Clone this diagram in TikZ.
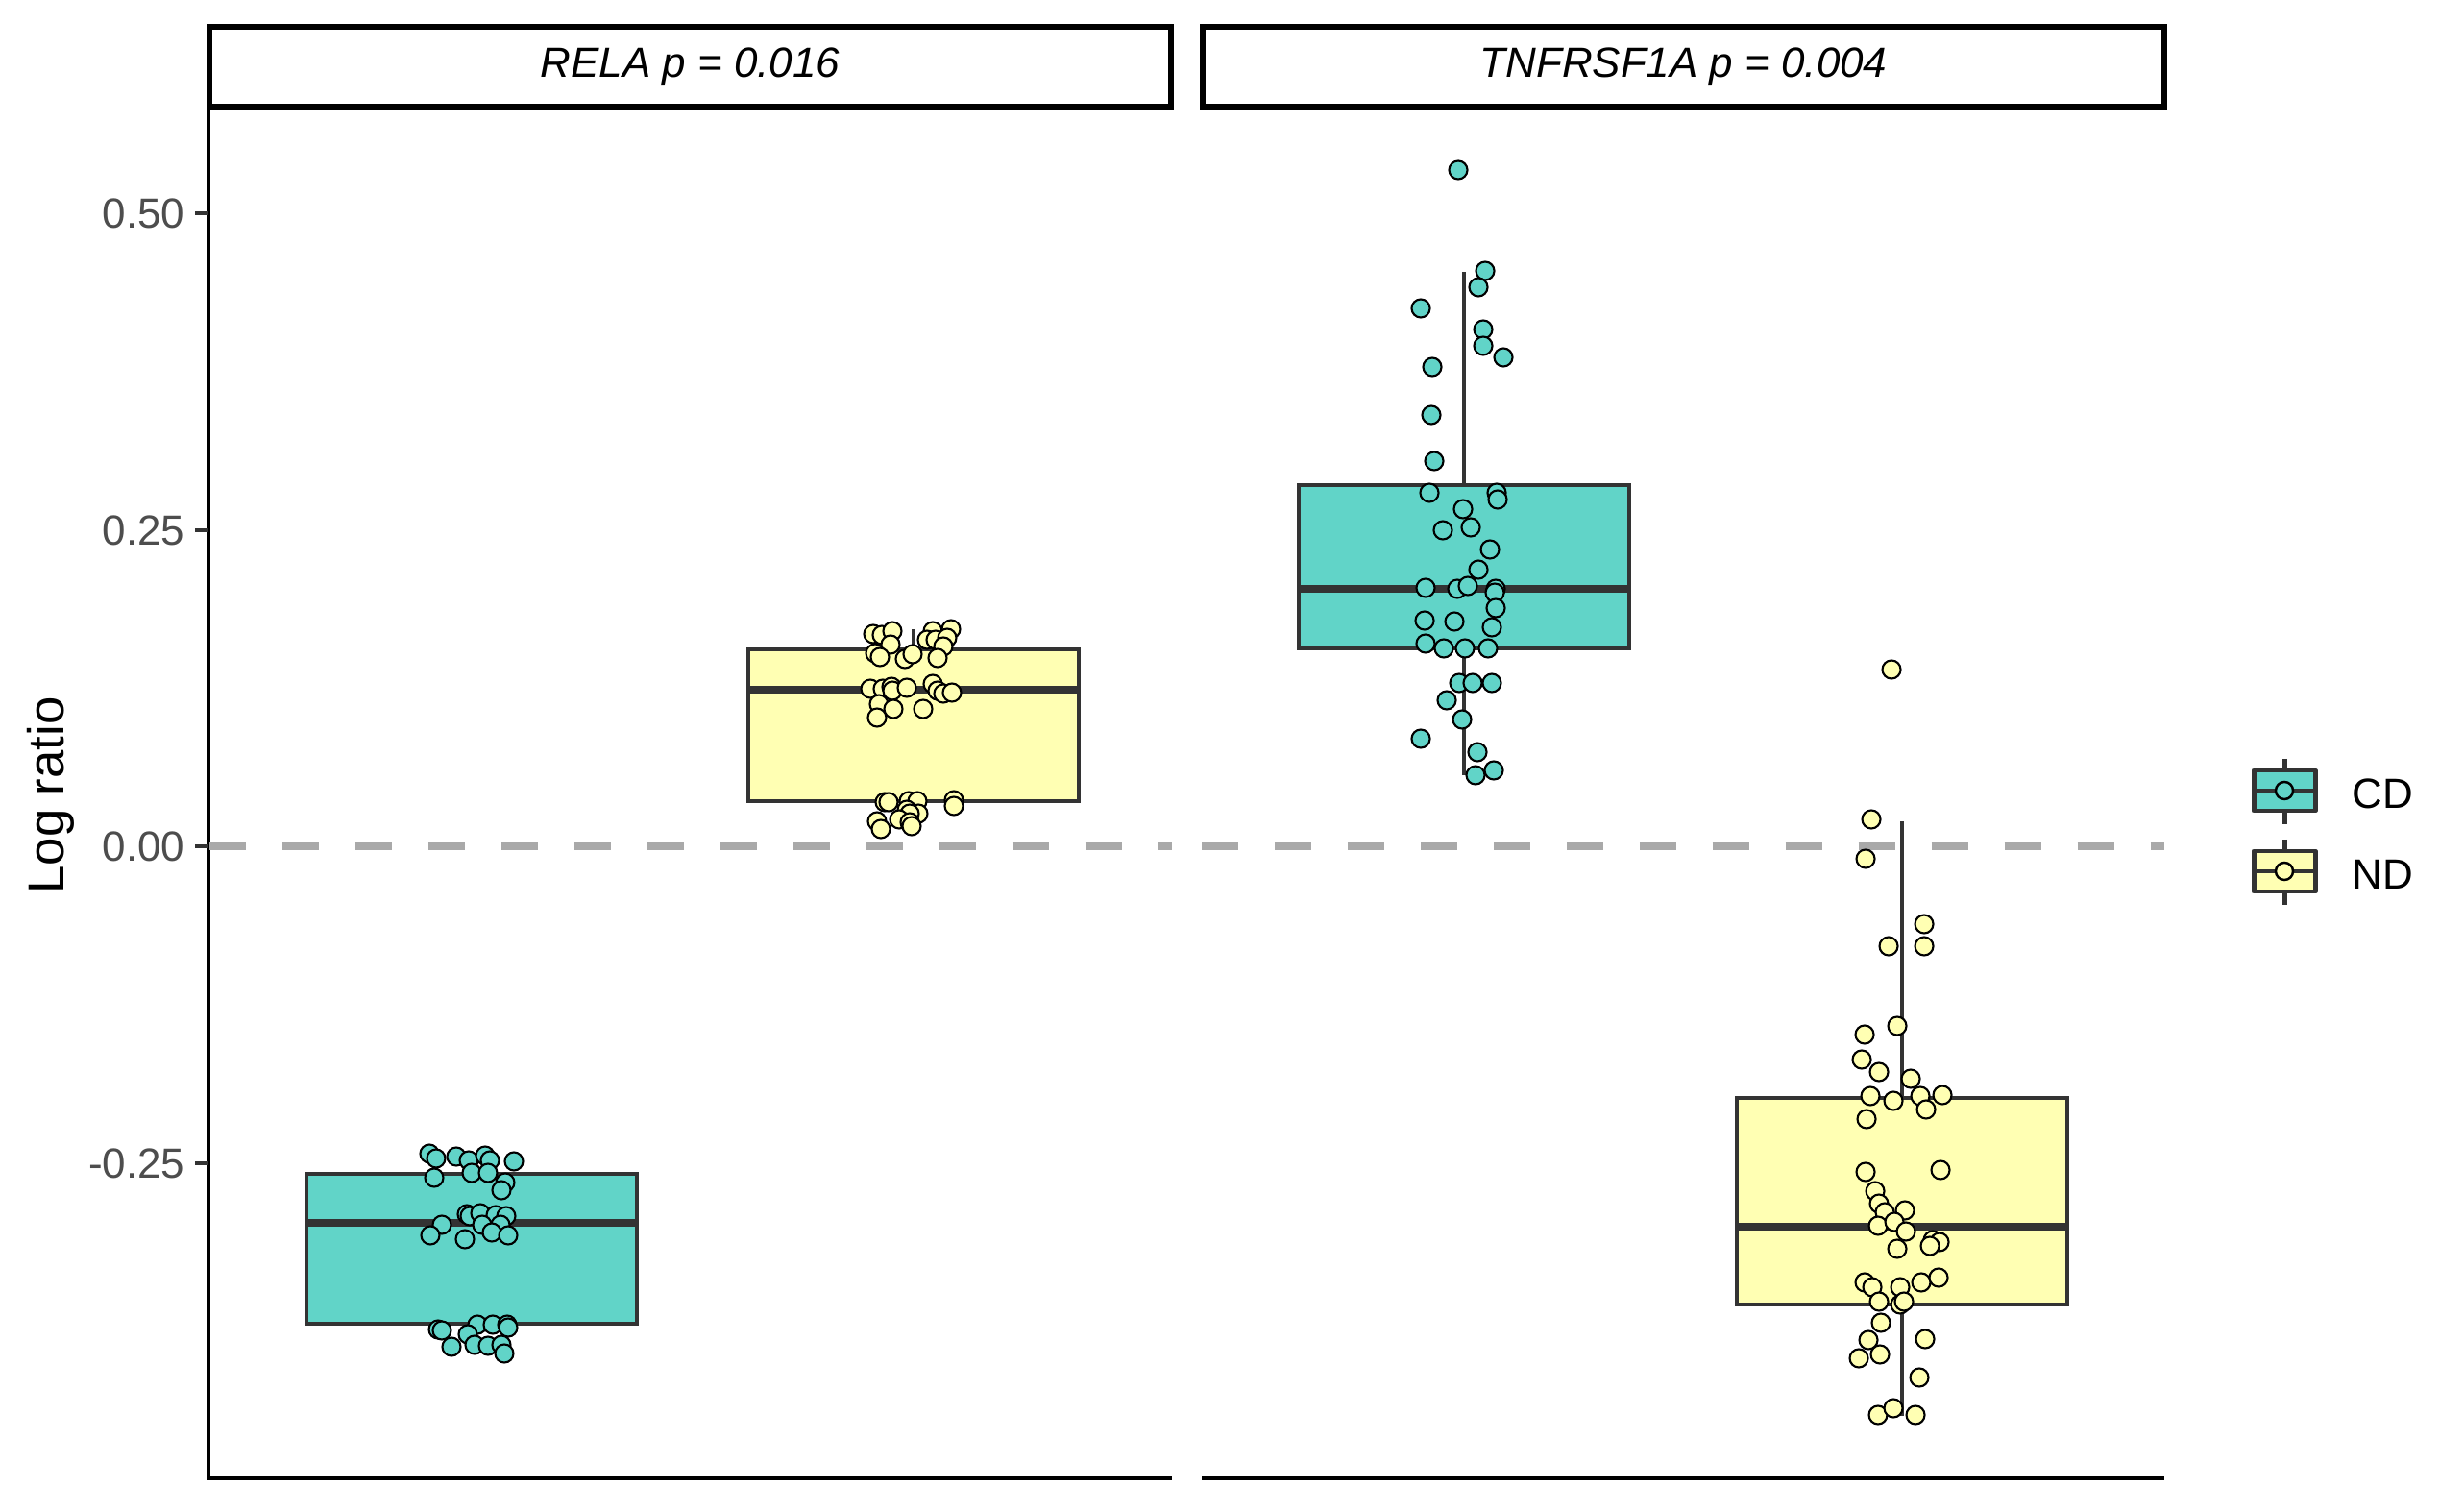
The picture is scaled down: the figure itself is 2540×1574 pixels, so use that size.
\documentclass[tikz,border=0pt]{standalone}
\usepackage{fontspec}
\setmainfont{Liberation Sans}
\definecolor{cdcol}{HTML}{61D4C8}
\definecolor{ndcol}{HTML}{FFFFB3}
\definecolor{boxline}{HTML}{333333}
\definecolor{ticklab}{HTML}{4D4D4D}
\definecolor{zerocol}{HTML}{A9A9A9}
\tikzset{
	boxbody/.style={draw=boxline, line width=1.2pt},
	medline/.style={draw=boxline, line width=2.4pt},
	whisk/.style={draw=boxline, line width=1.1pt},
	cdpoint/.style={draw=black, fill=cdcol, line width=0.6pt},
	ndpoint/.style={draw=black, fill=ndcol, line width=0.6pt},
	striplab/.style={font=\fontsize{12.5}{15}\selectfont\itshape},
	ticklabel/.style={font=\fontsize{12.5}{15}\selectfont, text=ticklab, inner sep=0pt},
	keylabel/.style={font=\fontsize{12.5}{15}\selectfont, anchor=west, inner sep=0pt}
}
\begin{document}
\begin{tikzpicture}[x=0.01cm, y=-0.01cm]
	\useasboundingbox (0,0) rectangle (2540,1574);
	
	%Streifen ueber den Feldern
	\draw[line width=1.8pt] (218,28) rectangle (1219,111) node[midway, striplab](stripRela){RELA p = 0.016};
	\draw[line width=1.8pt] (1252,28) rectangle (2253,111) node[midway, striplab](stripTnf){TNFRSF1A p = 0.004};
	
	%Achsen
	\draw[line width=1.3pt] (217,111) -- (217,1539) -- (1220,1539);
	\draw[line width=1.3pt] (1251,1539) -- (2253,1539);
	\foreach \val/\py [count=\i] in {0.50/222, 0.25/552, 0.00/881, -0.25/1211}{
		\draw[boxline, line width=1.2pt] (203,\py) -- (217,\py);
		\node[ticklabel, anchor=east](tick\i) at (193,\py) {\val};
	}
	\node[rotate=90, font=\fontsize{15}{18}\selectfont](ylab) at (53,828) {Log ratio};
	
	%Nulllinie
	\begin{scope}[zerocol, line width=2.5pt, dash pattern=on 10.8pt off 10.8pt]
	\draw (218,881) -- (1220,881);
	\draw (1251,881) -- (2253,881);
	\end{scope}
	
	%Boxen: Mitte/oben/unten/Median/Whisker oben/Whisker unten
	\foreach \cx/\top/\bot/\med/\wt/\wb/\col in {
		491/1222/1378/1273/1201/1409/cdcol,
		951/676/834/718/655/863/ndcol,
		1524/505/675/613/283/807/cdcol,
		1980/1143/1358/1277/855/1474/ndcol}{
		\draw[whisk] (\cx,\top) -- (\cx,\wt);
		\draw[whisk] (\cx,\bot) -- (\cx,\wb);
		\draw[boxbody, fill=\col] (\cx-172,\top) rectangle (\cx+172,\bot);
		\draw[medline] (\cx-172,\med) -- (\cx+172,\med);
	}
	
	%Punkte RELA
	\foreach \x/\y in {447/1201, 454/1206, 475/1204, 488/1208, 505/1203, 510/1208, 535/1209, 452/1226, 491/1221, 508/1221, 526/1231, 522/1239, 486/1264, 489/1266, 500/1263, 516/1265, 527/1266, 502/1275, 521/1275, 460/1275, 448/1286, 484/1290, 512/1283, 529/1286, 456/1384, 460/1385, 497/1379, 513/1379, 528/1379, 529/1382, 487/1389, 470/1402, 494/1400, 508/1401, 522/1400, 525/1409}
		\draw[cdpoint] (\x,\y) circle[radius=0.95mm];
	\foreach \x/\y in {909/660, 918/661, 929/657, 927/671, 911/680, 916/684, 942/686, 950/681, 971/657, 990/655, 965/666, 974/666, 986/664, 982/673, 976/685, 906/717, 919/717, 928/715, 929/719, 944/716, 971/712, 976/719, 982/722, 991/721, 915/733, 930/738, 913/747, 961/738, 921/835, 925/835, 946/834, 955/834, 993/833, 993/839, 944/843, 956/847, 947/847, 936/853, 947/856, 949/860, 913/855, 917/863}
		\draw[ndpoint] (\x,\y) circle[radius=0.95mm];
	
	%Punkte TNFRSF1A
	\foreach \x/\y in {1518/177, 1546/282, 1539/299, 1479/321, 1544/343, 1544/360, 1565/372, 1491/382, 1490/432, 1493/480, 1488/513, 1558/513, 1559/520, 1523/530, 1502/552, 1531/549, 1551/572, 1539/593, 1484/612, 1517/613, 1528/610, 1557/613, 1556/617, 1557/633, 1483/646, 1514/647, 1553/653, 1484/670, 1503/675, 1525/675, 1549/675, 1519/711, 1533/711, 1553/711, 1506/729, 1522/749, 1479/769, 1538/783, 1555/802, 1536/807}
		\draw[cdpoint] (\x,\y) circle[radius=0.95mm];
	\foreach \x/\y in {1969/697, 1948/853, 1942/894, 2003/962, 1966/985, 2003/985, 1975/1068, 1941/1077, 1938/1103, 1956/1116, 1989/1123, 1947/1141, 1971/1146, 1999/1141, 2022/1140, 2005/1155, 1943/1165, 1942/1220, 2020/1218, 1952/1240, 1956/1253, 1962/1262, 1983/1260, 1955/1276, 1972/1272, 1984/1282, 2012/1291, 2019/1293, 2009/1297, 1975/1300, 1941/1335, 1949/1340, 1978/1340, 2000/1335, 2018/1330, 1956/1355, 1978/1358, 1982/1355, 1958/1377, 1945/1395, 2004/1394, 1935/1414, 1957/1410, 1998/1434, 1955/1473, 1971/1466, 1994/1473}
		\draw[ndpoint] (\x,\y) circle[radius=0.95mm];
	
	%Legende
	\foreach \grp/\col/\ky in {CD/cdcol/823, ND/ndcol/907}{
		\draw[boxline, line width=1.4pt] (2378,\ky-33) -- (2378,\ky+35);
		\draw[boxline, line width=1.4pt, line join=round, fill=\col] (2346,\ky-21) rectangle (2410,\ky+21);
		\draw[boxline, line width=1.4pt] (2346,\ky) -- (2410,\ky);
		\draw[draw=black, fill=\col, line width=0.7pt] (2378,\ky) circle[radius=0.9mm];
		\node[keylabel](key\grp) at (2448,\ky+3) {\grp};
	}
	
\end{tikzpicture}
\end{document}
